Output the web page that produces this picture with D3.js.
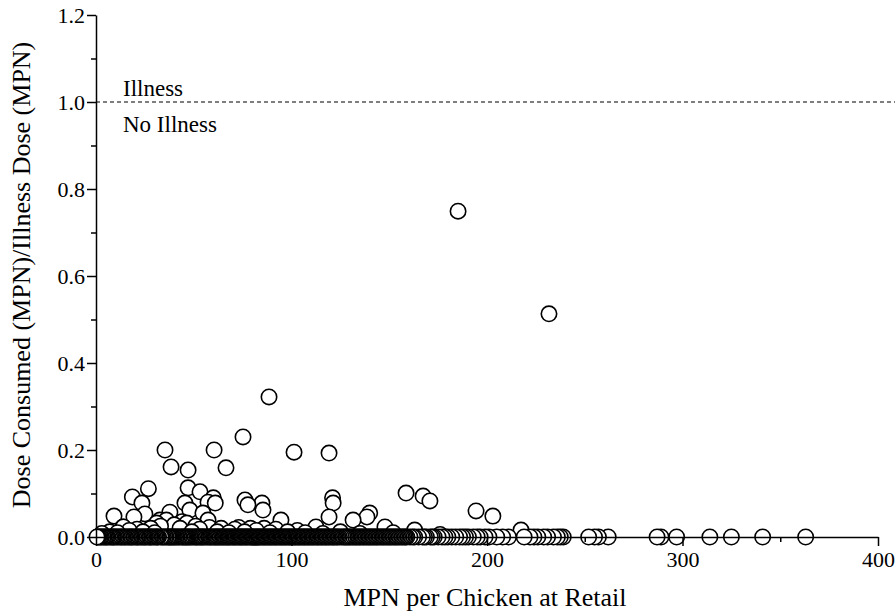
<!DOCTYPE html>
<html>
<head>
<meta charset="utf-8">
<script src="https://cdn.jsdelivr.net/npm/d3@7"></script>
<style>
  body { margin: 0; background: #fff; }
</style>
</head>
<body>
<script>
// samples where dose/illness dose is 0 (MPN per chicken)
var zeroMpn = [0.5, 1.5, 2.8, 3.6, 4.9, 6.1, 7.0, 8.4, 9.5, 10.3, 11.8, 12.6, 13.9, 15.2, 16.0, 17.4,
  18.5, 19.3, 20.8, 21.9, 22.7, 24.1, 25.3, 26.0, 27.5, 28.6, 29.4, 30.9, 32.0, 33.2, 34.5, 35.3,
  36.8, 37.9, 39.0, 40.2, 41.5, 42.3, 43.8, 45.0, 46.1, 47.3, 48.6, 49.4, 50.9, 52.0, 53.3, 54.5,
  55.8, 56.6, 58.0, 59.2, 60.5, 61.7, 62.9, 64.1, 65.4, 66.6, 67.8, 69.0, 70.3, 71.5, 72.8, 74.0,
  75.1, 76.4, 77.6, 78.9, 80.1, 81.3, 82.6, 83.8, 85.0, 86.3, 87.5, 88.8, 90.0, 91.3, 92.5, 93.8,
  95.1, 96.3, 97.6, 98.9, 100.2, 101.5, 102.8, 104.0, 105.4, 106.7, 108.0, 109.3, 110.6, 112.0,
  113.4, 114.7, 116.1, 117.5, 118.8, 120.3, 121.6, 123.0, 124.5, 126.4, 127.8, 129.1, 130.5, 132.0,
  133.4, 134.8, 136.3, 137.7, 139.2, 140.6, 142.1, 143.5, 145.0, 146.6, 148.1, 149.7, 151.2, 152.8,
  154.3, 156.0, 157.6, 159.0, 160.6, 163.0, 167.0, 169.0, 171.0, 173.0, 175.0, 178.5, 180.0, 184.0,
  186.0, 187.5, 189.0, 190.5, 193.0, 195.0, 196.5, 199.0, 201.0, 205.0, 208.0, 211.0, 219.0, 222.0,
  224.0, 226.0, 229.0, 231.0, 234.0, 236.0, 237.5, 239.0, 252.0, 255.0, 257.0, 262.0, 287.0, 289.0,
  297.0, 314.0, 325.0, 341.0, 363.0,
  1.0, 2.2, 4.2, 5.5, 7.7, 8.9, 11.0, 13.2, 14.6, 16.7, 18.0, 20.1, 21.3, 23.4, 24.7, 26.8, 28.0,
  30.2, 31.4, 33.8, 35.9, 37.3, 38.4, 39.6, 40.9, 42.9, 44.4, 45.6, 46.7, 48.0, 50.2, 51.4, 52.7,
  53.9, 55.1, 57.3, 58.6, 59.9, 61.1, 62.3, 63.5, 64.8, 66.0, 67.2, 68.4, 69.7, 70.9, 72.1, 73.4,
  74.6, 75.8, 77.0, 78.3, 79.5, 80.7, 82.0, 83.2, 84.4, 85.7, 86.9, 88.1, 89.4, 90.6, 91.9, 93.1,
  94.5, 95.7, 97.0, 98.3, 99.5, 100.9, 102.1, 103.4, 104.7, 106.0, 107.3, 108.6, 110.0, 111.3,
  112.7, 114.0, 115.4, 116.8, 118.1, 119.5, 121.0, 122.3, 123.7, 125.5, 127.1, 128.4, 129.8, 131.3,
  132.7, 134.1, 135.5, 137.0, 138.5, 139.9, 141.3, 142.8, 144.2, 145.8, 147.3, 148.9, 150.4, 152.0,
  153.5, 155.1, 156.8, 158.3, 162.0, 165.0, 168.0, 172.0, 177.0, 182.0];

// samples with a dose ratio above 0
var posMpn = [185.2, 231.7, 88.5, 35.3, 38.4, 60.4, 75.2, 66.5, 47.1, 101.3, 119.2, 47.1, 26.8, 18.6,
  23.5, 9.2, 53.2, 45.5, 57.3, 60.0, 61.0, 76.2, 77.7, 84.9, 85.4, 121.0, 121.3, 119.2, 131.5, 138.6,
  140.0, 158.6, 167.3, 170.8, 194.4, 203.0, 19.4, 25.0, 37.8, 32.7, 48.0, 54.7, 46.5, 94.6, 36.0,
  31.0, 13.8, 57.3, 112.5, 147.8, 163.0, 217.4,
  3.0, 7.0, 11.0, 14.0, 17.0, 21.0, 24.0, 28.0, 30.0, 33.0, 40.0, 43.0, 44.0, 49.0, 51.0, 53.0,
  58.0, 62.0, 64.0, 68.0, 71.0, 73.0, 76.0, 79.0, 82.0, 86.0, 89.0, 92.0, 98.0, 103.0, 107.0,
  116.0, 125.0, 135.0, 152.0, 176.0];
var posRatio = [0.749, 0.513, 0.322, 0.200, 0.161, 0.200, 0.230, 0.159, 0.154, 0.195, 0.193, 0.113, 0.111, 0.092,
  0.078, 0.048, 0.104, 0.078, 0.080, 0.090, 0.078, 0.085, 0.074, 0.078, 0.062, 0.090, 0.078, 0.046, 0.039, 0.046,
  0.055, 0.101, 0.094, 0.083, 0.060, 0.048, 0.046, 0.053, 0.057, 0.039, 0.062, 0.055, 0.032, 0.039, 0.039,
  0.032, 0.023, 0.039, 0.023, 0.023, 0.016, 0.016,
  0.008, 0.012, 0.010, 0.023, 0.015, 0.018, 0.012, 0.020, 0.010, 0.025, 0.028, 0.020, 0.035, 0.012, 0.025, 0.018,
  0.022, 0.012, 0.020, 0.010, 0.018, 0.022, 0.012, 0.020, 0.015, 0.020, 0.010, 0.018, 0.012, 0.015, 0.010,
  0.008, 0.012, 0.008, 0.010, 0.006];

var xMajor = [0, 100, 200, 300, 400];
var xMinor = [50, 150, 250, 350];
var yMajor = [0, 0.2, 0.4, 0.6, 0.8, 1.0, 1.2];
var yMinor = [0.1, 0.3, 0.5, 0.7, 0.9, 1.1];
var threshold = 1.0;

var FONT = "'Liberation Serif', 'Times New Roman', Times, serif";

var W = 895, H = 615;
var margin = {top: 15, right: 17, bottom: 78, left: 96},
    width = W - margin.left - margin.right,
    height = H - margin.top - margin.bottom;

var svg = d3.select("body")
  .append("svg")
    .attr("width", W)
    .attr("height", H)
  .append("g")
    .attr("transform", "translate(" + margin.left + "," + margin.top + ")");

var x = d3.scaleLinear().domain([0, 400]).range([0, 782]);
var y = d3.scaleLinear().domain([0, 1.2]).range([height, 0]);

// threshold line
svg.append("line")
  .attr("x1", x(0)).attr("x2", W - margin.left)
  .attr("y1", y(threshold)).attr("y2", y(threshold))
  .attr("stroke", "#000").attr("stroke-width", 1.1)
  .attr("stroke-dasharray", "4,3");

svg.append("text")
  .attr("x", 27).attr("y", y(threshold) - 6)
  .style("font-family", FONT)
  .style("font-size", "23px")
  .text("Illness");
svg.append("text")
  .attr("x", 27).attr("y", y(threshold) + 30)
  .style("font-family", FONT)
  .style("font-size", "23px")
  .text("No Illness");

// points: positives first, then the zero row on top, drawn right to left
var zeroPts = zeroMpn.map(function(d) { return {m: d, r: 0}; })
  .sort(function(a, b) { return b.m - a.m; });
var posPts = posMpn.map(function(d, i) { return {m: d, r: posRatio[i]}; })
  .sort(function(a, b) { return b.r - a.r; });

svg.append("g")
  .selectAll("circle")
  .data(posPts.concat(zeroPts))
  .enter()
  .append("circle")
    .attr("cx", function(d) { return x(d.m); })
    .attr("cy", function(d) { return y(d.r); })
    .attr("r", 7.7)
    .attr("fill", "#fff")
    .attr("stroke", "#000")
    .attr("stroke-width", 1.6);

// axes
function styleAxis(g) {
  g.selectAll("path, line").attr("stroke", "#000").attr("stroke-width", 1.5);
  g.selectAll("text").style("font-size", "22px").style("font-family", FONT);
}

svg.append("g")
  .attr("transform", "translate(0," + height + ")")
  .call(d3.axisBottom(x).tickValues(xMinor).tickSize(5).tickFormat(""))
  .call(function(g) { g.select(".domain").remove(); })
  .call(styleAxis);
svg.append("g")
  .attr("transform", "translate(0," + height + ")")
  .call(d3.axisBottom(x).tickValues(xMajor).tickSize(9).tickSizeOuter(0).tickPadding(5).tickFormat(d3.format("d")))
  .call(styleAxis);

svg.append("g")
  .call(d3.axisLeft(y).tickValues(yMinor).tickSize(5).tickFormat(""))
  .call(function(g) { g.select(".domain").remove(); })
  .call(styleAxis);
svg.append("g")
  .call(d3.axisLeft(y).tickValues(yMajor).tickSize(9).tickSizeOuter(0).tickPadding(2).tickFormat(d3.format(".1f")))
  .call(styleAxis);

// axis titles
svg.append("text")
  .attr("x", x(200) - 2)
  .attr("y", height + 69)
  .style("text-anchor", "middle")
  .style("font-family", FONT)
  .style("font-size", "26px")
  .text("MPN per Chicken at Retail");

svg.append("text")
  .attr("transform", "rotate(-90)")
  .attr("x", -(275 - margin.top))
  .attr("y", 30 - margin.left)
  .style("text-anchor", "middle")
  .style("font-family", FONT)
  .style("font-size", "26px")
  .text("Dose Consumed (MPN)/Illness Dose (MPN)");
</script>
</body>
</html>
